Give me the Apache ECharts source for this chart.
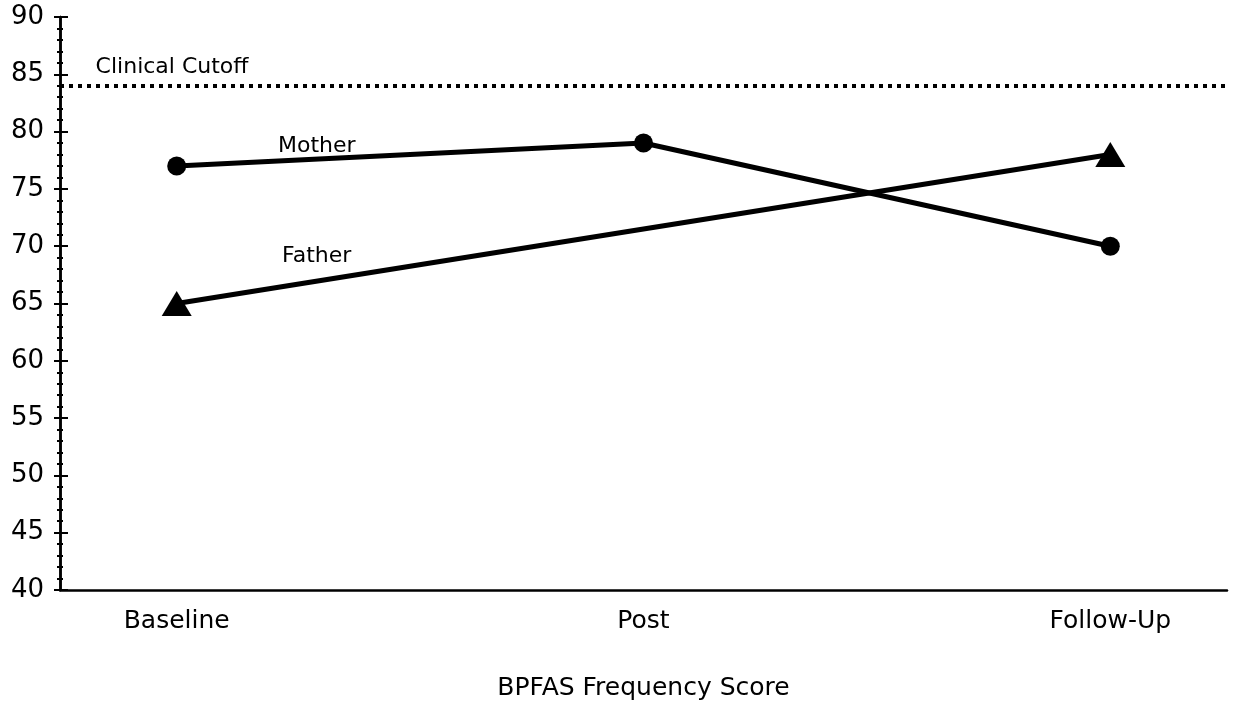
<!DOCTYPE html>
<html>
<head>
<meta charset="utf-8">
<script src="https://cdn.jsdelivr.net/npm/echarts@6/dist/echarts.min.js"></script>
<style>
html,body{margin:0;padding:0;background:#fff;}
#chart{width:1233px;height:705px;}
</style>
</head>
<body>
<div id="chart"></div>
<script>
var categories = ['Baseline', 'Post', 'Follow-Up'];
var motherValues = [77, 79, 70];
var fatherValues = [65, null, 78];
var cutoffValue = 84;
var yTicks = [40, 45, 50, 55, 60, 65, 70, 75, 80, 85, 90];
var xAxisTitle = 'BPFAS Frequency Score';
var cutoffLabel = 'Clinical Cutoff';

var FONT = '"DejaVu Sans", sans-serif';

function toPoints(vals) {
  var out = [];
  vals.forEach(function (v, i) { if (v !== null) out.push([i, v]); });
  return out;
}

var chart = echarts.init(document.getElementById('chart'), null, {renderer: 'canvas'});

var yBase = {
  type: 'value', min: yTicks[0], max: yTicks[yTicks.length - 1], interval: 5,
  position: 'left', offset: 0, splitLine: {show: false},
  axisLine: {show: true, onZero: false, lineStyle: {color: '#000', width: 2.5}},
  minorSplitLine: {show: false}
};

var textLabel = {show: true, position: 'inside', color: '#000', fontSize: 22, fontFamily: FONT};

var option = {
  animation: false,
  backgroundColor: '#fff',
  grid: {left: 60, right: 6, top: 17, bottom: 115, outerBoundsMode: 'none', containLabel: false},
  xAxis: {
    type: 'value', min: -0.25, max: categories.length - 0.75,
    splitLine: {show: false},
    axisLine: {show: true, onZero: false, lineStyle: {color: '#000', width: 2.5}},
    axisTick: {show: false},
    axisLabel: {
      show: true, customValues: categories.map(function (c, i) { return i; }),
      formatter: function (v) { return categories[Math.round(v)] || ''; },
      color: '#000', fontSize: 25, fontFamily: FONT, margin: 19
    },
    name: xAxisTitle, nameLocation: 'middle', nameGap: 86,
    nameTextStyle: {color: '#000', fontSize: 25, fontFamily: FONT}
  },
  yAxis: [
    Object.assign({}, yBase, {
      axisTick: {show: true, inside: false, length: 6, lineStyle: {color: '#000', width: 2}},
      minorTick: {show: true, splitNumber: 5, length: 3, lineStyle: {color: '#000', width: 2}},
      axisLabel: {show: true, color: '#000', fontSize: 26, fontFamily: FONT, margin: 16}
    }),
    Object.assign({}, yBase, {
      axisTick: {show: true, inside: true, length: 8, lineStyle: {color: '#000', width: 2}},
      minorTick: {show: true, splitNumber: 5, length: 3, lineStyle: {color: '#000', width: 2}},
      axisLabel: {show: false}
    })
  ],
  series: [
    {
      name: 'Mother', type: 'line', data: toPoints(motherValues),
      symbol: 'circle', symbolSize: 19,
      lineStyle: {color: '#000', width: 5}, itemStyle: {color: '#000'},
      markLine: {
        silent: true, symbol: 'none', label: {show: false},
        lineStyle: {color: '#000', width: 4, type: [4, 5]},
        data: [{yAxis: cutoffValue}]
      },
      markPoint: {
        symbol: 'circle', symbolSize: 1, itemStyle: {color: 'rgba(0,0,0,0)'},
        label: textLabel,
        data: [
          {coord: [0.3, 78.7], name: 'Mother', label: {formatter: 'Mother'}},
          {coord: [-0.01, 85.6], name: cutoffLabel, label: {formatter: cutoffLabel}}
        ]
      }
    },
    {
      name: 'Father', type: 'line', data: toPoints(fatherValues),
      symbol: 'triangle', symbolSize: [30, 25],
      lineStyle: {color: '#000', width: 5}, itemStyle: {color: '#000'},
      markPoint: {
        symbol: 'circle', symbolSize: 1, itemStyle: {color: 'rgba(0,0,0,0)'},
        label: textLabel,
        data: [
          {coord: [0.3, 69.1], name: 'Father', label: {formatter: 'Father'}}
        ]
      }
    }
  ]
};
chart.setOption(option);
</script>
</body>
</html>
